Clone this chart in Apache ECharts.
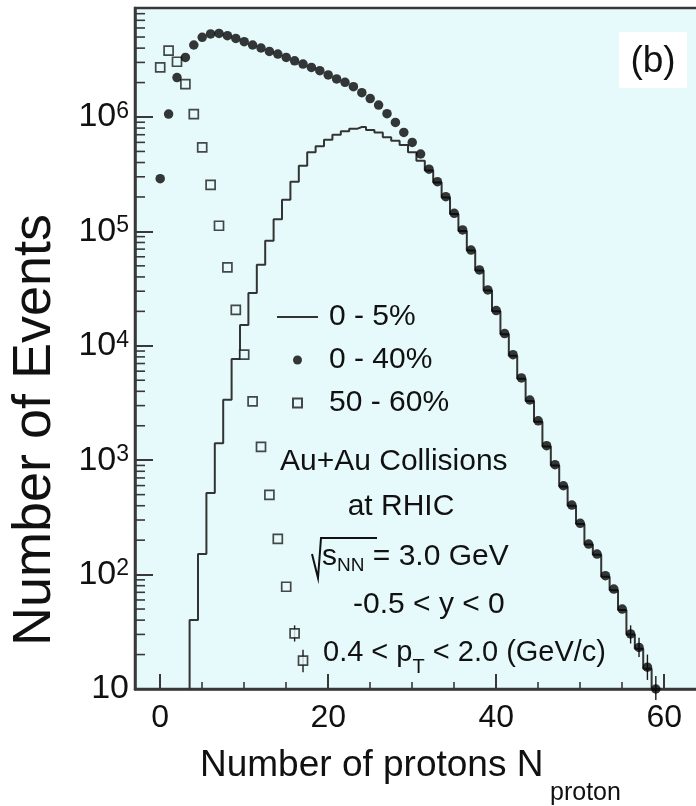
<!DOCTYPE html>
<html>
<head>
<meta charset="utf-8">
<script src="https://cdn.jsdelivr.net/npm/echarts@6/dist/echarts.min.js"></script>
<style>
html,body{margin:0;padding:0;background:#ffffff;}
#chart{width:696px;height:806px;}
</style>
</head>
<body>
<div id="chart"></div>
<script>
// ---------------- data ----------------
const nCentrality0to40 = [0,1,2,3,4,5,6,7,8,9,10,11,12,13,14,15,16,17,18,19,20,21,22,23,24,25,26,27,28,29,30,31,32,33,34,35,36,37,38,39,40,41,42,43,44,45,46,47,48,49,50,51,52,53,54,55,56,57,58,59];
const events0to40 = [2.89e5,1.06e6,2.21e6,3.32e6,4.26e6,4.97e6,5.32e6,5.38e6,5.14e6,4.86e6,4.55e6,4.26e6,4.01e6,3.74e6,3.55e6,3.32e6,3.10e6,2.90e6,2.71e6,2.54e6,2.33e6,2.15e6,2.01e6,1.84e6,1.63e6,1.45e6,1.27e6,1.07e6,8.97e5,7.33e5,6.0e5,4.75e5,3.50e5,2.72e5,2.01e5,1.44e5,1.03e5,6.87e4,4.60e4,3.08e4,2.03e4,1.28e4,8.36e3,5.24e3,3.36e3,2.21e3,1.34e3,914,598,405,281,185,151,97.8,74.8,50,30.3,23.1,15.5,10];

// 0-5% histogram (bins 3 and 60 are empty, drawn below the axis floor)
const nCentrality0to5 = [3,4,5,6,7,8,9,10,11,12,13,14,15,16,17,18,19,20,21,22,23,24,25,26,27,28,29,30,31,32,33,34,35,36,37,38,39,40,41,42,43,44,45,46,47,48,49,50,51,52,53,54,55,56,57,58,59,60];
const events0to5 = [1,40,151,517,1410,3380,7670,1.52e4,2.90e4,5.12e4,8.3e4,1.28e5,1.89e5,2.72e5,3.75e5,4.91e5,5.56e5,6.34e5,7.0e5,7.51e5,7.91e5,8.18e5,7.69e5,7.33e5,6.64e5,6.21e5,5.69e5,4.91e5,4.15e5,3.40e5,2.67e5,1.98e5,1.42e5,1.01e5,6.8e4,4.55e4,3.05e4,2.0e4,1.26e4,8.2e3,5.15e3,3.3e3,2.17e3,1.32e3,900,590,400,277,183,149,96,73,49,30,22.5,15,10,1];

const nCentrality50to60 = [0,1,2,3,4,5,6,7,8,9,10,11,12,13,14,15,16,17];
const events50to60 = [2.72e6,3.80e6,3.04e6,1.94e6,1.06e6,5.42e5,2.55e5,1.12e5,4.84e4,2.06e4,8.36e3,3.27e3,1.31e3,497,205,78.3,30.6,17.7];

// statistical error bars visible in the tail regions
const errN    = [16,17,56,57,58,59];
const errLow  = [26,14,25,19,12,8];
const errHigh = [36,22,36,28,20,13];

// axis ticks
const xTickValues = [0,20,40,60];
const xMinorTickValues = [5,10,15,25,30,35,45,50,55];
const yDecades = [10,100,1000,10000,100000,1000000];
const yMinorMultipliers = [2,3,4,5,6,7,8,9];

const seriesNames = ['0 - 5%','0 - 40%','50 - 60%'];

// ---------------- chart ----------------
const FONT = '"Liberation Sans", Arial, Helvetica, sans-serif';
const INK = '#111111';
const AXIS = '#383838';
const BG = '#e7fafb';
const Y_MAX = 8.97e6;

const yMinorTickValues = [];
yDecades.forEach(d => yMinorMultipliers.forEach(m => { if (d * m < Y_MAX) yMinorTickValues.push(d * m); }));

const chart = echarts.init(document.getElementById('chart'), null, {renderer: 'canvas'});

const option = {
  animation: false,
  backgroundColor: '#ffffff',
  grid: {
    left: 135, top: 8, right: -3, bottom: 117,
    show: true, backgroundColor: BG, borderColor: AXIS, borderWidth: 2.5,
    containLabel: false, outerBoundsMode: 'none'
  },
  legend: {
    show: true, orient: 'vertical', left: 272, top: 297,
    itemWidth: 41, itemHeight: 9, itemGap: 13, selectedMode: false,
    textStyle: {fontFamily: FONT, fontSize: 30, color: INK, lineHeight: 30, padding: [0,0,0,6]},
    data: [
      {name: seriesNames[0], icon: 'path://M0,0H40V2H0Z'},
      {name: seriesNames[1], icon: 'circle'},
      {name: seriesNames[2], icon: 'path://M0,0H9V9H0Z'}
    ]
  },
  xAxis: [
    {
      type: 'value', min: -3, max: 64.14, position: 'bottom',
      axisLine: {show: true, onZero: false, lineStyle: {color: AXIS, width: 2.5}},
      axisTick: {show: true, inside: true, length: 15, customValues: xTickValues, lineStyle: {color: AXIS, width: 2}},
      axisLabel: {show: true, customValues: xTickValues, fontFamily: FONT, fontSize: 32, color: INK, margin: 13},
      splitLine: {show: false}
    },
    {
      type: 'value', min: -3, max: 64.14, position: 'bottom',
      axisLine: {show: false, onZero: false},
      axisTick: {show: true, inside: true, length: 7, customValues: xMinorTickValues, lineStyle: {color: AXIS, width: 1.6}},
      axisLabel: {show: false},
      splitLine: {show: false}
    }
  ],
  yAxis: [
    {
      type: 'log', logBase: 10, min: 10, max: Y_MAX,
      axisLine: {show: true, onZero: false, lineStyle: {color: AXIS, width: 2.5}},
      axisTick: {show: true, inside: true, length: 18, lineStyle: {color: AXIS, width: 2}},
      axisLabel: {
        show: true, showMaxLabel: false, margin: 6,
        fontFamily: FONT, fontSize: 34, color: INK,
        formatter: function (v) {
          const e = Math.round(Math.log10(v));
          return e === 1 ? '10' : '10{sup|' + e + '}';
        },
        rich: {sup: {fontFamily: FONT, fontSize: 23, color: INK, verticalAlign: 'top', lineHeight: 22}}
      },
      splitLine: {show: false}
    }
  ],
  series: [
    {
      name: seriesNames[0], type: 'line', step: 'middle', symbol: 'none',
      xAxisIndex: 0, yAxisIndex: 0, z: 2, clip: true,
      lineStyle: {color: '#333333', width: 2},
      itemStyle: {color: '#333333'},
      data: nCentrality0to5.map((n, i) => [n, events0to5[i]])
    },
    {
      name: seriesNames[1], type: 'scatter', symbol: 'circle', symbolSize: 9.5,
      xAxisIndex: 0, yAxisIndex: 0, z: 4, clip: false,
      itemStyle: {color: '#050505'},
      data: nCentrality0to40.map((n, i) => [n, events0to40[i]])
    },
    {
      name: seriesNames[2], type: 'scatter', symbol: 'rect', symbolSize: 9,
      xAxisIndex: 0, yAxisIndex: 0, z: 3,
      itemStyle: {color: BG, borderColor: '#1a1a1a', borderWidth: 1.7},
      data: nCentrality50to60.map((n, i) => [n, events50to60[i]])
    },
    {
      name: 'errors', type: 'custom', xAxisIndex: 0, yAxisIndex: 0, z: 2, silent: true,
      data: errN.map((n, i) => [n, errLow[i], errHigh[i]]),
      renderItem: function (params, api) {
        const a = api.coord([api.value(0), api.value(1)]);
        const b = api.coord([api.value(0), api.value(2)]);
        return {type: 'line', shape: {x1: a[0], y1: a[1], x2: b[0], y2: b[1]}, style: {stroke: '#1a1a1a', lineWidth: 1.4}};
      }
    },
    {
      name: 'yMinorTicks', type: 'custom', xAxisIndex: 0, yAxisIndex: 0, z: 5, silent: true, clip: false,
      data: yMinorTickValues.map(v => [0, v]),
      renderItem: function (params, api) {
        const y = api.coord([0, api.value(1)])[1];
        const x0 = params.coordSys.x;
        return {type: 'line', shape: {x1: x0, y1: y, x2: x0 + 10, y2: y}, style: {stroke: AXIS, lineWidth: 1.6}};
      }
    }
  ],
  graphic: [
    // panel label
    {type: 'rect', shape: {x: 619, y: 32, width: 68, height: 56}, style: {fill: '#ffffff'}, z: 10},
    {type: 'text', x: 653, y: 62, z: 11, style: {text: '(b)', font: '37px ' + FONT, fill: INK, align: 'center', verticalAlign: 'middle'}},
    // annotations
    {type: 'text', x: 280, y: 462, z: 10, style: {text: 'Au+Au Collisions', font: '30px ' + FONT, fill: INK, align: 'left', verticalAlign: 'middle'}},
    {type: 'text', x: 401, y: 507, z: 10, style: {text: 'at RHIC', font: '30px ' + FONT, fill: INK, align: 'center', verticalAlign: 'middle'}},
    {type: 'polyline', z: 10, shape: {points: [[312, 554], [318, 578], [321, 538], [377, 538]]}, style: {stroke: INK, lineWidth: 2, fill: null}},
    {type: 'text', x: 322, y: 557, z: 10, style: {
      text: 's{sub|NN} = 3.0 GeV', font: '30px ' + FONT, fill: INK, align: 'left', verticalAlign: 'middle',
      rich: {sub: {fontFamily: FONT, fontSize: 19, fill: INK, padding: [18, 0, 0, 0]}}
    }},
    {type: 'text', x: 353, y: 605, z: 10, style: {text: '-0.5 < y < 0', font: '30px ' + FONT, fill: INK, align: 'left', verticalAlign: 'middle'}},
    {type: 'text', x: 323, y: 653, z: 10, style: {
      text: '0.4 < p{sub|T} < 2.0 (GeV/c)', font: '29px ' + FONT, fill: INK, align: 'left', verticalAlign: 'middle',
      rich: {sub: {fontFamily: FONT, fontSize: 20, fill: INK, padding: [28, 0, 0, 0]}}
    }},
    // axis titles
    {type: 'text', x: 200, y: 766, z: 10, style: {
      text: 'Number of protons N', font: '37px ' + FONT, fill: INK, align: 'left', verticalAlign: 'middle'
    }},
    {type: 'text', x: 550, y: 793, z: 10, style: {text: 'proton', font: '25px ' + FONT, fill: INK, align: 'left', verticalAlign: 'middle'}},
    {type: 'text', x: 35, y: 430, rotation: Math.PI / 2, z: 10, style: {
      text: 'Number of Events', font: '54px ' + FONT, fill: INK, align: 'center', verticalAlign: 'middle'
    }}
  ]
};

chart.setOption(option);
</script>
</body>
</html>
